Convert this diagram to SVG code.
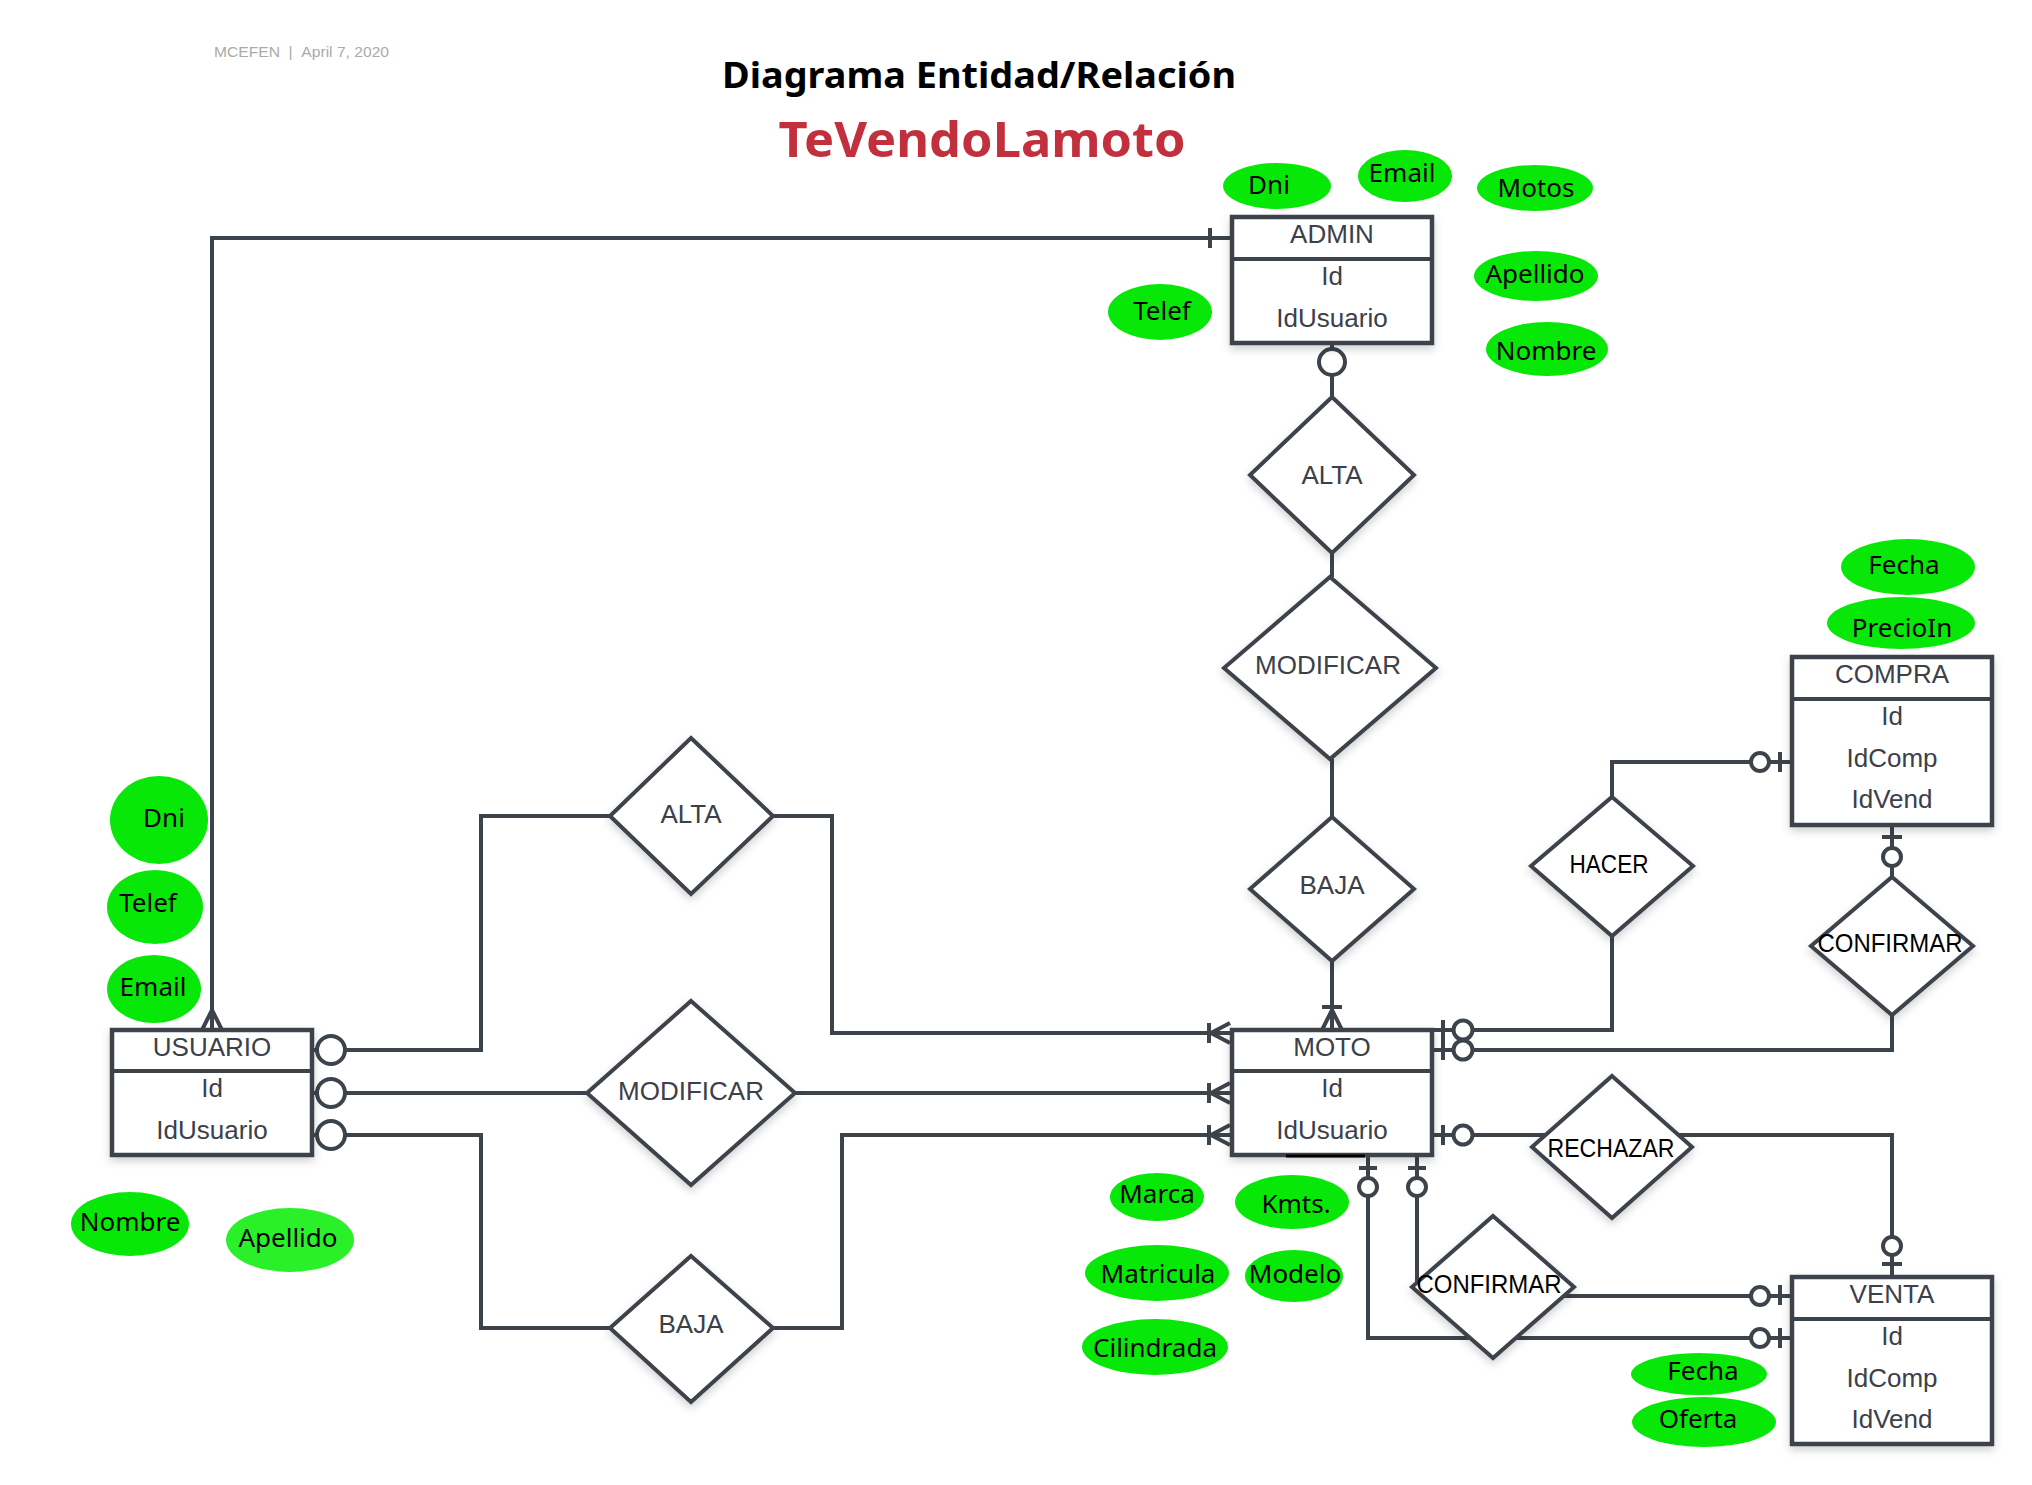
<svg xmlns="http://www.w3.org/2000/svg" width="2032" height="1485" viewBox="0 0 2032 1485">
<defs>
<filter id="sh" x="-20%" y="-20%" width="140%" height="150%">
<feDropShadow dx="0" dy="4" stdDeviation="4" flood-color="#000" flood-opacity="0.18"/>
</filter>
</defs>
<style>
.ln{fill:none;stroke:#3d434b;stroke-width:4}
.ci{fill:#fff;stroke:#3d434b;stroke-width:4}
.box{fill:#fff;stroke:#3d434b;stroke-width:4.5}
.dia{fill:#fff;stroke:#3d434b;stroke-width:4}
.et{font-family:"Liberation Sans",Arial,sans-serif;font-size:26px;fill:#3b4049;text-anchor:middle}
.bt{font-family:"Liberation Sans",Arial,sans-serif;font-size:25px;fill:#000;text-anchor:middle}
.at{fill:#08e808}
.att{font-family:"Noto Sans","Open Sans",sans-serif;font-size:26px;fill:#000;text-anchor:middle}
</style>
<rect width="2032" height="1485" fill="#fff"/>

<text x="214" y="57" font-family="Liberation Sans, Arial, sans-serif" font-size="15" fill="#aaaaaa" textLength="175" lengthAdjust="spacingAndGlyphs">MCEFEN&#160;&#160;|&#160;&#160;April 7, 2020</text>
<text x="979" y="88" font-family="Noto Sans, Open Sans, sans-serif" font-size="35" font-weight="bold" fill="#000" text-anchor="middle" textLength="514" lengthAdjust="spacingAndGlyphs">Diagrama Entidad/Relación</text>
<text x="982" y="157" font-family="Noto Sans, Open Sans, sans-serif" font-size="49" font-weight="bold" fill="#c1303c" text-anchor="middle" textLength="407" lengthAdjust="spacingAndGlyphs">TeVendoLamoto</text>

<g id="connectors">
<path class="ln" d="M212,1030 V238 H1232"/>
<path class="ln" d="M202,1030 L212,1010 L222,1030"/>
<path class="ln" d="M1210,228 V248"/>
<path class="ln" d="M1332,343 V397"/>
<path class="ln" d="M1332,553 V577"/>
<path class="ln" d="M1332,759 V817"/>
<path class="ln" d="M1332,961 V1030"/>
<path class="ln" d="M1322,1007 H1342 M1322,1030 L1332,1010 L1342,1030"/>
<path class="ln" d="M312,1050 H481 V816 H640"/>
<path class="ln" d="M740,816 H832 V1033 H1232"/>
<path class="ln" d="M312,1093 H640"/>
<path class="ln" d="M740,1093 H1232"/>
<path class="ln" d="M312,1135 H481 V1328 H640"/>
<path class="ln" d="M740,1328 H842 V1135 H1232"/>
<path class="ln" d="M1209,1023 V1043 M1230,1023 L1211,1033 L1230,1043"/>
<path class="ln" d="M1209,1083 V1103 M1230,1083 L1211,1093 L1230,1103"/>
<path class="ln" d="M1209,1125 V1145 M1230,1125 L1211,1135 L1230,1145"/>
<path class="ln" d="M1432,1030 H1612 V900"/>
<path class="ln" d="M1612,830 V762 H1792"/>
<path class="ln" d="M1432,1050 H1892 V980"/>
<path class="ln" d="M1892,825 V900"/>
<path class="ln" d="M1432,1135 H1570"/>
<path class="ln" d="M1650,1135 H1892 V1277"/>
<path class="ln" d="M1417,1155 V1287 H1440"/>
<path class="ln" d="M1540,1296 H1792"/>
<path class="ln" d="M1368,1155 V1338 H1792"/>
<path class="ln" d="M1443,1020 V1040 M1443,1040 V1060"/>
<path class="ln" d="M1443,1125 V1145"/>
<path class="ln" d="M1780,752 V772"/>
<path class="ln" d="M1882,837 H1902"/>
<path class="ln" d="M1882,1264 H1902"/>
<path class="ln" d="M1408,1168 H1426 M1359,1168 H1377"/>
<path class="ln" d="M1780,1285 V1305 M1780,1328 V1348"/>
<circle class="ci" cx="331" cy="1050" r="14"/>
<circle class="ci" cx="331" cy="1093" r="14"/>
<circle class="ci" cx="331" cy="1135" r="14"/>
<circle class="ci" cx="1332" cy="362" r="13"/>
<circle class="ci" cx="1463" cy="1030" r="9.5"/>
<circle class="ci" cx="1463" cy="1050" r="9.5"/>
<circle class="ci" cx="1463" cy="1135" r="9.5"/>
<circle class="ci" cx="1760" cy="762" r="9"/>
<circle class="ci" cx="1892" cy="857" r="9"/>
<circle class="ci" cx="1892" cy="1246" r="9"/>
<circle class="ci" cx="1417" cy="1187" r="9"/>
<circle class="ci" cx="1368" cy="1187" r="9"/>
<circle class="ci" cx="1760" cy="1296" r="9"/>
<circle class="ci" cx="1760" cy="1338" r="9"/>
</g>

<g id="admin">
<rect class="box" x="1232" y="217" width="200" height="126" filter="url(#sh)"/>
<path class="ln" d="M1232,259 H1432" stroke-width="4.5"/>
<text class="et" x="1332" y="243">ADMIN</text>
<text class="et" x="1332" y="285">Id</text>
<text class="et" x="1332" y="327">IdUsuario</text>
</g>
<g id="usuario">
<rect class="box" x="112" y="1030" width="200" height="125" filter="url(#sh)"/>
<path class="ln" d="M112,1071 H312" stroke-width="4.5"/>
<text class="et" x="212" y="1056">USUARIO</text>
<text class="et" x="212" y="1097">Id</text>
<text class="et" x="212" y="1139">IdUsuario</text>
</g>
<g id="moto">
<rect class="box" x="1232" y="1030" width="200" height="125" filter="url(#sh)"/>
<path class="ln" d="M1232,1071 H1432" stroke-width="4.5"/>
<path d="M1286,1156 H1365" stroke="#000" stroke-width="3"/>
<text class="et" x="1332" y="1056">MOTO</text>
<text class="et" x="1332" y="1097">Id</text>
<text class="et" x="1332" y="1139">IdUsuario</text>
</g>
<g id="compra">
<rect class="box" x="1792" y="657" width="200" height="168" filter="url(#sh)"/>
<path class="ln" d="M1792,699 H1992" stroke-width="4.5"/>
<text class="et" x="1892" y="683">COMPRA</text>
<text class="et" x="1892" y="725">Id</text>
<text class="et" x="1892" y="767">IdComp</text>
<text class="et" x="1892" y="808">IdVend</text>
</g>
<g id="venta">
<rect class="box" x="1792" y="1277" width="200" height="167" filter="url(#sh)"/>
<path class="ln" d="M1792,1319 H1992" stroke-width="4.5"/>
<text class="et" x="1892" y="1303">VENTA</text>
<text class="et" x="1892" y="1345">Id</text>
<text class="et" x="1892" y="1387">IdComp</text>
<text class="et" x="1892" y="1428">IdVend</text>
</g>

<g id="alta-admin">
<polygon class="dia" points="1332,397 1414,475 1332,553 1250,475" filter="url(#sh)"/>
<text class="et" x="1332" y="484">ALTA</text>
</g>
<g id="modificar-admin">
<polygon class="dia" points="1330,577 1436,668 1330,759 1224,668" filter="url(#sh)"/>
<text class="et" x="1328" y="674">MODIFICAR</text>
</g>
<g id="baja-admin">
<polygon class="dia" points="1332,817 1414,889 1332,961 1250,889" filter="url(#sh)"/>
<text class="et" x="1332" y="894">BAJA</text>
</g>
<g id="alta-usuario">
<polygon class="dia" points="691,738 773,816 691,894 610,816" filter="url(#sh)"/>
<text class="et" x="691" y="823">ALTA</text>
</g>
<g id="modificar-usuario">
<polygon class="dia" points="691,1001 795,1093 691,1185 587,1093" filter="url(#sh)"/>
<text class="et" x="691" y="1100">MODIFICAR</text>
</g>
<g id="baja-usuario">
<polygon class="dia" points="691,1256 773,1328 691,1402 610,1328" filter="url(#sh)"/>
<text class="et" x="691" y="1333">BAJA</text>
</g>
<g id="hacer">
<polygon class="dia" points="1612,797 1693,866 1612,936 1531,866" filter="url(#sh)"/>
<text class="bt" x="1609" y="873" textLength="79" lengthAdjust="spacingAndGlyphs">HACER</text>
</g>
<g id="confirmar-compra">
<polygon class="dia" points="1892,877 1973,946 1892,1015 1811,946" filter="url(#sh)"/>
<text class="bt" x="1890" y="952" textLength="145" lengthAdjust="spacingAndGlyphs">CONFIRMAR</text>
</g>
<g id="rechazar">
<polygon class="dia" points="1612,1076 1692,1147 1612,1218 1532,1147" filter="url(#sh)"/>
<text class="bt" x="1611" y="1157" textLength="127" lengthAdjust="spacingAndGlyphs">RECHAZAR</text>
</g>
<g id="confirmar-venta">
<polygon class="dia" points="1493,1216 1574,1287 1493,1358 1412,1287" filter="url(#sh)"/>
<text class="bt" x="1489" y="1293" textLength="145" lengthAdjust="spacingAndGlyphs">CONFIRMAR</text>
</g>

<g id="attr-admin-dni"><ellipse class="at" cx="1277" cy="186" rx="54" ry="23"/><text class="att" x="1269" y="194">Dni</text></g>
<g id="attr-admin-email"><ellipse class="at" cx="1405" cy="176" rx="47" ry="26"/><text class="att" x="1402" y="182">Email</text></g>
<g id="attr-admin-motos"><ellipse class="at" cx="1535" cy="188" rx="58" ry="23"/><text class="att" x="1536" y="197">Motos</text></g>
<g id="attr-admin-apellido"><ellipse class="at" cx="1536" cy="276" rx="62" ry="25"/><text class="att" x="1535" y="283">Apellido</text></g>
<g id="attr-admin-nombre"><ellipse class="at" cx="1547" cy="349" rx="61" ry="27"/><text class="att" x="1546" y="360">Nombre</text></g>
<g id="attr-admin-telef"><ellipse class="at" cx="1160" cy="312" rx="52" ry="28"/><text class="att" x="1162" y="320">Telef</text></g>

<g id="attr-compra-fecha"><ellipse class="at" cx="1908" cy="567" rx="67" ry="28"/><text class="att" x="1904" y="574">Fecha</text></g>
<g id="attr-compra-precioin"><ellipse class="at" cx="1901" cy="623" rx="74" ry="26"/><text class="att" x="1902" y="637">PrecioIn</text></g>

<g id="attr-venta-fecha"><ellipse class="at" cx="1699" cy="1374" rx="68" ry="21"/><text class="att" x="1703" y="1380">Fecha</text></g>
<g id="attr-venta-oferta"><ellipse class="at" cx="1704" cy="1422" rx="72" ry="25"/><text class="att" x="1698" y="1428">Oferta</text></g>

<g id="attr-moto-marca"><ellipse class="at" cx="1157" cy="1197" rx="47" ry="24"/><text class="att" x="1157" y="1203">Marca</text></g>
<g id="attr-moto-kmts"><ellipse class="at" cx="1292" cy="1202" rx="57" ry="27"/><text class="att" x="1296" y="1213">Kmts.</text></g>
<g id="attr-moto-matricula"><ellipse class="at" cx="1157" cy="1273" rx="72" ry="28"/><text class="att" x="1158" y="1283">Matricula</text></g>
<g id="attr-moto-modelo"><ellipse class="at" cx="1294" cy="1276" rx="49" ry="26"/><text class="att" x="1295" y="1283">Modelo</text></g>
<g id="attr-moto-cilindrada"><ellipse class="at" cx="1155" cy="1347" rx="73" ry="28"/><text class="att" x="1155" y="1357">Cilindrada</text></g>

<g id="attr-usuario-dni"><ellipse class="at" cx="159" cy="820" rx="49" ry="44"/><text class="att" x="164" y="827">Dni</text></g>
<g id="attr-usuario-telef"><ellipse class="at" cx="155" cy="907" rx="48" ry="37"/><text class="att" x="148" y="912">Telef</text></g>
<g id="attr-usuario-email"><ellipse class="at" cx="154" cy="989" rx="47" ry="34"/><text class="att" x="153" y="996">Email</text></g>
<g id="attr-usuario-nombre"><ellipse class="at" cx="130" cy="1224" rx="59" ry="32"/><text class="att" x="130" y="1231">Nombre</text></g>
<g id="attr-usuario-apellido"><ellipse cx="290" cy="1240" rx="64" ry="32" fill="#2af02a"/><text class="att" x="288" y="1247">Apellido</text></g>
</svg>
